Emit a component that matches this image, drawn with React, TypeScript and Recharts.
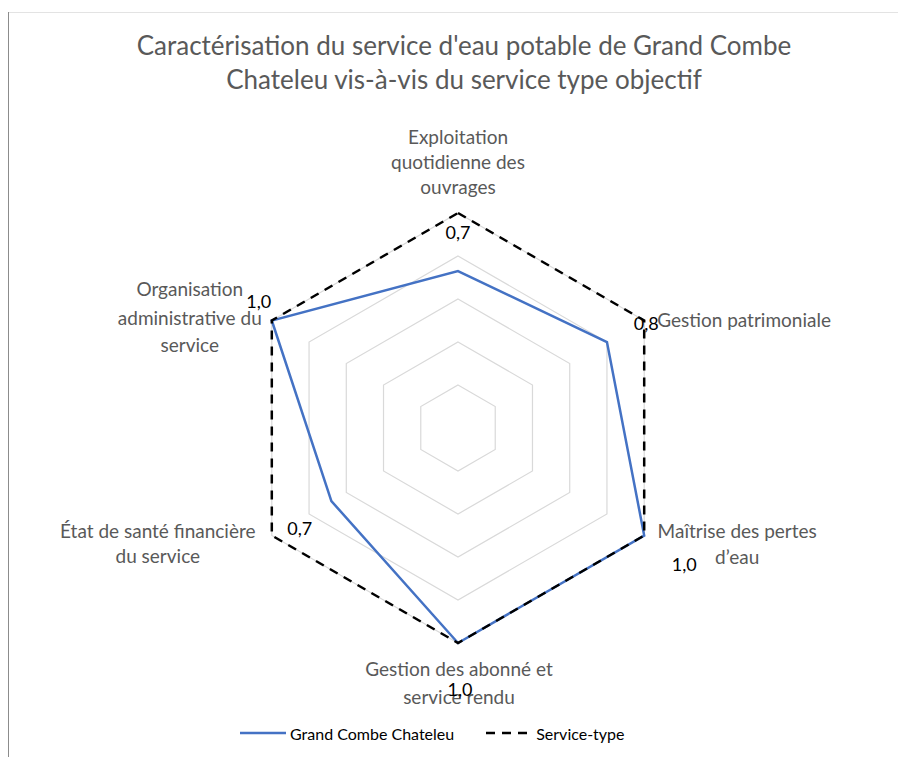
import React from 'react';
import { RadarChart, Radar, PolarGrid, PolarAngleAxis, PolarRadiusAxis } from 'recharts';

const categories = [
  'Exploitation quotidienne des ouvrages',
  'Gestion patrimoniale',
  'Maîtrise des pertes d’eau',
  'Gestion des abonné et service rendu',
  'État de santé financière du service',
  'Organisation administrative du service',
];
// line breaks as drawn in the reference
const categoryLines = [
  ['Exploitation', 'quotidienne des', 'ouvrages'],
  ['Gestion patrimoniale'],
  ['Maîtrise des pertes', 'd’eau'],
  ['Gestion des abonné et', 'service rendu'],
  ['État de santé financière', 'du service'],
  ['Organisation', 'administrative du', 'service'],
];
const grandCombe = [0.73, 0.8, 1.0, 1.0, 0.68, 1.0];
const serviceType = [1, 1, 1, 1, 1, 1];
const radiusTicks = [0, 0.2, 0.4, 0.6, 0.8, 1.0];

const data = categories.map((c, i) => ({
  axis: c,
  gcc: grandCombe[i],
  st: serviceType[i],
}));

const FONT = 'Lato, "Open Sans", sans-serif';
const GREY = '#595959';
const BLUE = '#4472c4';

const CX = 450;
const CY = 420;
const R = 215;

// tick label placement relative to the outer vertex
const tickOffsets = [
  { dx: 0, dy: [-77, -52, -27], anchor: 'middle' },
  { dx: 13, dy: [-1], anchor: 'start' },
  { dx: 93, dy: [-5, 21], anchor: 'middle' },
  { dx: 1, dy: [25, 53], anchor: 'middle' },
  { dx: -114, dy: [-5, 20], anchor: 'middle' },
  { dx: -82, dy: [-32, -3, 24], anchor: 'middle' },
];

// data label placement relative to the outer vertex
const labelOffsets = [
  [0, 19],
  [2, 2],
  [40, 28],
  [2, 46],
  [28, -8],
  [-13, -20],
];

const AngleTick = (props: any) => {
  const { payload, index } = props;
  const angle = (payload.coordinate * Math.PI) / 180;
  const vx = CX + R * Math.cos(angle);
  const vy = CY - R * Math.sin(angle);
  const o = tickOffsets[index];
  return (
    <g>
      {categoryLines[index].map((line, k) => (
        <text
          key={k}
          x={vx + o.dx}
          y={vy + o.dy[k]}
          textAnchor={o.anchor as any}
          dominantBaseline="central"
          fontFamily={FONT}
          fontSize={19}
          fill={GREY}
        >
          {line}
        </text>
      ))}
    </g>
  );
};

const ValueDot = (props: any) => {
  const { cx, cy, index } = props;
  const [dx, dy] = labelOffsets[index];
  const v = grandCombe[index].toFixed(1).replace('.', ',');
  return (
    <text
      key={`lbl-${index}`}
      x={cx + dx}
      y={cy + dy}
      textAnchor="middle"
      dominantBaseline="central"
      fontFamily={FONT}
      fontSize={18}
      fill="#000"
    >
      {v}
    </text>
  );
};

export default function App() {
  return (
    <div style={{ position: 'relative', width: 898, height: 749, background: '#fff' }}>
      <div style={{ position: 'absolute', left: 0, top: 4, width: 898, height: 1, background: '#e3e3e3' }} />
      <div style={{ position: 'absolute', left: 0, top: 4, width: 1, height: 745, background: '#8c8c8c' }} />
      <div
        style={{
          position: 'absolute',
          left: 0,
          top: 20,
          width: 912,
          textAlign: 'center',
          fontFamily: FONT,
          fontSize: 26,
          lineHeight: '34px',
          color: GREY,
        }}
      >
        Caractérisation du service d'eau potable de Grand Combe
        <br />
        Chateleu vis-à-vis du service type objectif
      </div>
      <div style={{ position: 'absolute', left: 0, top: 0 }}>
        <RadarChart width={898} height={749} data={data} cx={CX} cy={CY} outerRadius={R} margin={{ top: 0, right: 0, bottom: 0, left: 0 }}>
          <PolarGrid
            gridType="polygon"
            radialLines={false}
            stroke="#d9d9d9"
            strokeWidth={1.2}
            polarRadius={radiusTicks.map((t) => t * R)}
          />
          <PolarAngleAxis dataKey="axis" tick={<AngleTick />} tickLine={false} axisLine={false} />
          <PolarRadiusAxis type="number" domain={[0, 1]} ticks={radiusTicks as any} tick={{ fill: 'transparent' }} axisLine={false} />
          <Radar
            dataKey="gcc"
            name="Grand Combe Chateleu"
            stroke={BLUE}
            strokeWidth={2.5}
            fill="none"
            fillOpacity={0}
            dot={false}
            isAnimationActive={false}
          />
          <Radar
            dataKey="st"
            name="Service-type"
            stroke="#000"
            strokeWidth={2.5}
            strokeDasharray="9 7"
            fill="none"
            fillOpacity={0}
            dot={<ValueDot />}
            isAnimationActive={false}
          />
        </RadarChart>
      </div>
      <div
        style={{
          position: 'absolute',
          left: 232,
          top: 714,
          height: 22,
          display: 'flex',
          alignItems: 'center',
          fontFamily: FONT,
          fontSize: 16,
          color: '#000',
        }}
      >
        <svg width={50} height={10}>
          <line x1={0} y1={5} x2={46} y2={5} stroke={BLUE} strokeWidth={2.5} />
        </svg>
        <span>Grand Combe Chateleu</span>
        <svg width={82} height={10}>
          <line x1={32} y1={5} x2={78} y2={5} stroke="#000" strokeWidth={2.5} strokeDasharray="9 7" />
        </svg>
        <span>Service-type</span>
      </div>
    </div>
  );
}
